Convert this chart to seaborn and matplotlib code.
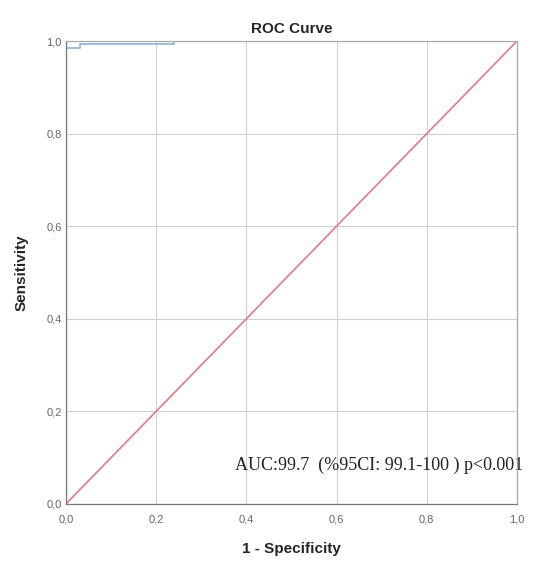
import numpy as np
import pandas as pd
import seaborn as sns
import matplotlib.pyplot as plt

# ROC curve corner points
fpr = [0.0, 0.0, 0.03, 0.03, 0.24, 0.24, 1.0]
tpr = [0.0, 0.985, 0.985, 0.993, 0.993, 1.0, 1.0]
ref_line = [0.0, 1.0]
ticks = [0.0, 0.2, 0.4, 0.6, 0.8, 1.0]
tick_labels = ['0,0', '0,2', '0,4', '0,6', '0,8', '1,0']
auc_text = 'AUC:99.7  (%95CI: 99.1-100 ) p<0.001'

sns.set_style('white')
plt.rcParams['font.family'] = ['Liberation Sans', 'DejaVu Sans']

fig = plt.figure(figsize=(5.43, 5.63), dpi=100)
ax = fig.add_axes([0.1215, 0.105, 0.8305, 0.822])

roc = pd.DataFrame({'fpr': fpr, 'tpr': tpr})
ref = pd.DataFrame({'x': ref_line, 'y': ref_line})

sns.lineplot(data=ref, x='x', y='y', color='#d9868c', lw=1.3, ax=ax,
             estimator=None, sort=False, zorder=3)
sns.lineplot(data=roc, x='fpr', y='tpr', color='#8fb0d0', lw=1.2, ax=ax,
             estimator=None, sort=False, zorder=4)

ax.set_xlim(0, 1)
ax.set_ylim(0, 1)
ax.set_xticks(ticks)
ax.set_yticks(ticks)
ax.set_xticklabels(tick_labels)
ax.set_yticklabels(tick_labels)
ax.tick_params(axis='both', labelsize=8, colors='#666666', length=0)
ax.tick_params(axis='x', pad=8)
ax.tick_params(axis='y', pad=3)
ax.grid(True, color='#d0d0d0', lw=0.8)
for s in ax.spines.values():
    s.set_color('#aaaaaa')
    s.set_linewidth(0.9)
    s.set_zorder(5)
ax.spines['left'].set_color('#777777')
ax.spines['bottom'].set_color('#777777')

ax.set_xlabel('1 - Specificity', fontsize=11, fontweight='bold', labelpad=12)
ax.set_ylabel('Sensitivity', fontsize=11, fontweight='bold', labelpad=13)
ax.set_title('ROC Curve', fontsize=11, fontweight='bold', pad=6)

ax.text(0.375, 0.083, auc_text, fontsize=13, family='Liberation Serif',
        color='#222222', va='center', ha='left')

fig.savefig('out.png', dpi=100)
